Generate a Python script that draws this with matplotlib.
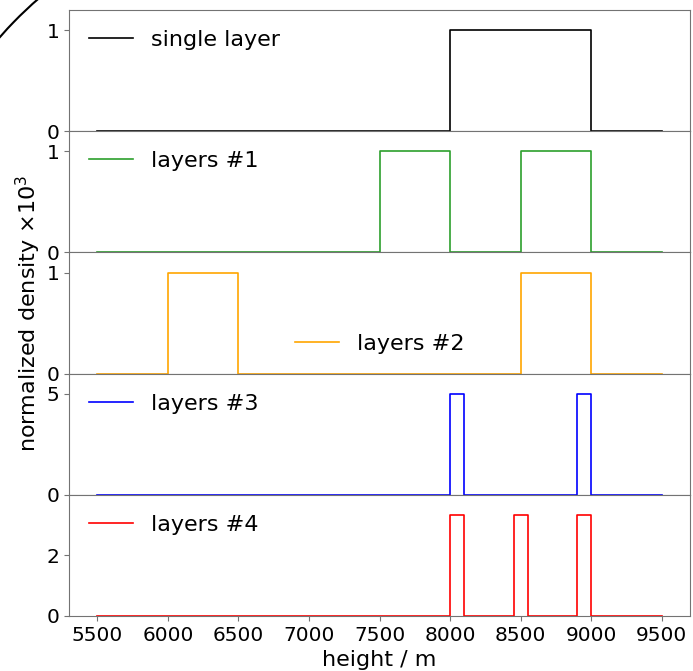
import numpy as np
import matplotlib
matplotlib.use('Agg')
import matplotlib.pyplot as plt
from matplotlib.patches import Arc

# layer bounds (m) and normalized density (x1e3)
x_start, x_end = 5500, 9500
labels = ['single layer', 'layers #1', 'layers #2', 'layers #3', 'layers #4']
colors = ['black', 'tab:green', 'orange', 'blue', 'red']
bottoms = [[8000], [7500, 8500], [6000, 8500], [8000, 8900], [8000, 8450, 8900]]
tops = [[9000], [8000, 9000], [6500, 9000], [8100, 9000], [8100, 8550, 9000]]
densities = [1.0, 1.0, 1.0, 5.0, 10.0 / 3.0]
yticks = [[0, 1], [0, 1], [0, 1], [0, 5], [0, 2]]
legend_locs = ['upper left', 'upper left', 'lower center', 'upper left', 'upper left']


def step_profile(bots, tps, val):
    xs = [x_start]
    ys = [0]
    for b, t in zip(bots, tps):
        xs += [b, b, t, t]
        ys += [0, val, val, 0]
    xs.append(x_end)
    ys.append(0)
    return xs, ys


plt.rcParams['font.size'] = 14.5
fig, axes = plt.subplots(5, 1, sharex=True, figsize=(6.93, 6.71), dpi=100)
fig.subplots_adjust(left=0.0996, right=0.9957, top=0.985, bottom=0.082, hspace=0)

for i, ax in enumerate(axes):
    xs, ys = step_profile(bottoms[i], tops[i], densities[i])
    ax.plot(xs, ys, color=colors[i], lw=1.2, label=labels[i])
    ax.set_ylim(0, 1.2 * densities[i])
    ax.set_yticks(yticks[i])
    ax.legend(loc=legend_locs[i], frameon=False, fontsize=16)
    for s in ax.spines.values():
        s.set_color('0.45')
    ax.tick_params(colors='0.45', labelcolor='black')

axes[-1].set_xticks(np.arange(5500, 9501, 500))
axes[-1].set_xlabel('height / m', fontsize=16)
fig.text(28 / 693, 1 - 313 / 671, r'normalized density $\times 10^3$',
         rotation=90, ha='center', va='center', fontsize=16)

# stray arc in the top-left corner
r = 400
c = 300.7
fig.add_artist(Arc((c / 693, 1 - c / 671), 2 * r / 693, 2 * r / 671,
                   theta1=125, theta2=145, transform=fig.transFigure,
                   color='black', lw=1.5))

fig.savefig('out.png', dpi=100)
